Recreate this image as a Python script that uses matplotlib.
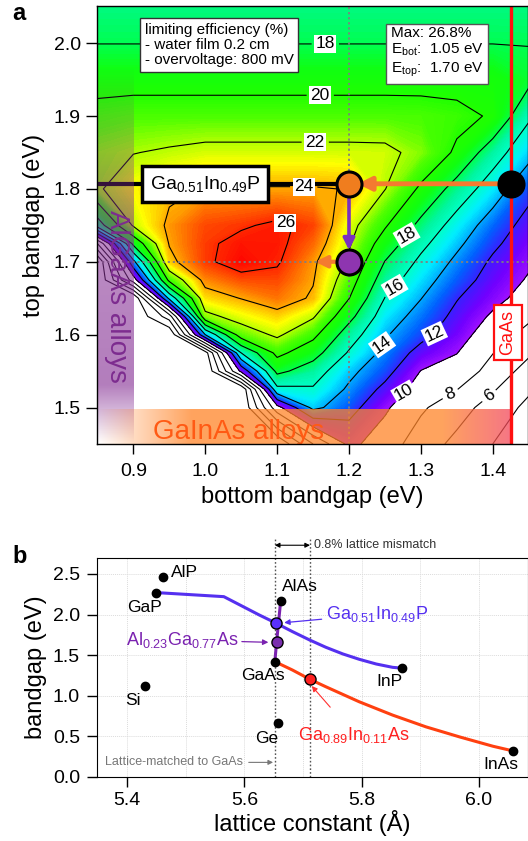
import numpy as np
import matplotlib
matplotlib.use('Agg')
import matplotlib.pyplot as plt
from matplotlib.colors import LinearSegmentedColormap

plt.rcParams['font.family'] = ['Liberation Sans', 'DejaVu Sans']
plt.rcParams['mathtext.fontset'] = 'custom'
plt.rcParams['mathtext.rm'] = 'Liberation Sans'
plt.rcParams['mathtext.it'] = 'Liberation Sans:italic'
plt.rcParams['mathtext.bf'] = 'Liberation Sans:bold'

# ---------------- panel a: limiting efficiency map ----------------
bottom_gap = [0.85, 0.90, 0.95, 1.00, 1.05, 1.10, 1.15, 1.20, 1.25, 1.30, 1.35, 1.40, 1.45]
top_gap = [1.45, 1.50, 1.525, 1.55, 1.575, 1.60, 1.625, 1.65, 1.675, 1.70, 1.725, 1.75,
           1.80, 1.85, 1.90, 1.95, 2.00, 2.05]
efficiency = [
    [0, 0, 0, 0, 0, 0, 6.0, 10.5, 9.0, 7.0, 5.5, 4.0, 2.5],
    [0, 0, 0, 0, 0, 9.3, 14.5, 12.8, 10.3, 8.3, 6.8, 5.2, 3.5],
    [0, 0, 0, 0, 0, 15.5, 15.8, 13.7, 11.5, 9.1, 8.05, 6.2, 4.3],
    [0, 0, 0, 0, 10.5, 18.5, 17.0, 14.5, 12.7, 9.95, 9.2, 7.3, 5.2],
    [0, 0, 0, 1.0, 16.0, 20.5, 18.8, 15.8, 13.5, 11.3, 10.05, 8.05, 6.3],
    [0, 0, 0, 14.0, 21.0, 22.3, 20.5, 17.0, 14.2, 12.6, 10.9, 8.8, 7.5],
    [0, 0, 5.0, 21.5, 22.7, 23.5, 22.2, 18.6, 15.0, 13.3, 11.5, 9.7, 8.3],
    [0, 0, 14.5, 23.3, 24.05, 24.8, 23.8, 20.05, 15.95, 14.05, 12.1, 10.6, 9.2],
    [0, 9.0, 20.5, 24.5, 25.4, 25.5, 24.1, 20.9, 17.0, 14.8, 12.9, 11.2, 9.8],
    [0, 13.5, 23.5, 25.7, 26.8, 26.2, 24.3, 21.7, 17.95, 15.6, 13.6, 11.7, 10.3],
    [6.0, 18.5, 24.1, 25.7, 26.5, 26.4, 25.0, 22.2, 19.1, 16.5, 14.4, 12.4, 10.8],
    [17.0, 22.2, 24.3, 25.5, 25.8, 26.3, 25.6, 22.6, 20.2, 17.5, 15.2, 13.1, 11.3],
    [21.8, 23.0, 23.7, 24.1, 24.1, 24.1, 24.1, 23.95, 22.05, 19.7, 17.2, 15.0, 12.6],
    [21.6, 21.95, 22.2, 22.45, 22.45, 22.45, 22.45, 22.45, 22.4, 21.5, 19.7, 16.9, 14.6],
    [20.6, 20.86, 20.86, 20.86, 20.86, 20.86, 20.86, 20.86, 20.86, 20.8, 20.5, 19.8, 16.3],
    [19.35, 19.35, 19.35, 19.35, 19.35, 19.35, 19.35, 19.35, 19.35, 19.35, 19.35, 19.35, 18.5],
    [17.97, 17.97, 17.97, 17.97, 17.97, 17.97, 17.97, 17.97, 17.97, 17.97, 17.97, 17.97, 17.95],
    [17.4, 17.4, 17.4, 17.4, 17.4, 17.4, 17.4, 17.4, 17.4, 17.4, 17.4, 17.4, 17.4],
]
line_levels = [2, 4, 6, 8, 10, 12, 14, 16, 18, 20, 22, 24, 26]

# where the contour labels sit (bottom gap, top gap) and how they are turned
label_x = [1.167, 1.160, 1.153, 1.137, 1.108, 1.282, 1.266, 1.243, 1.322, 1.275, 1.343, 1.394]
label_y = [1.997, 1.927, 1.864, 1.805, 1.743, 1.735, 1.663, 1.588, 1.599, 1.522, 1.515, 1.517]
label_rot = [0, 0, 0, 0, 0, 30, 30, 35, 25, 30, 20, 35]

# material / design points
gainp_top = 1.807      # Ga0.51In0.49P top bandgap
gaas_gap = 1.426       # GaAs bottom bandgap
design_bottom = 1.20
design_top = 1.70
alloy_limit = 0.90     # AlGaAs alloys below this bottom gap
gainas_limit = 1.497   # GaInAs alloys below this top gap

# colour stops of the efficiency scale
stop_levels = [10, 11, 12, 13, 14, 15, 16, 17, 18, 19, 20, 21, 22, 23, 24, 25, 26, 27]
stop_colors = ['#a010ff', '#7000ff', '#3820ff', '#0060ff', '#00a8ff', '#00eeff', '#00ffc8',
               '#00f5a0', '#00ff50', '#10ff10', '#20ff00', '#50ff00', '#b0ff00', '#ffff00',
               '#ffb000', '#ff6a00', '#ff2a00', '#ff0000']

# ---------------- panel b: bandgap vs lattice constant ----------------
compounds = ['AlP', 'GaP', 'Si', 'Ge', 'GaAs', 'AlAs', 'InP', 'InAs']
lattice = [5.4615, 5.450, 5.430, 5.658, 5.652, 5.662, 5.869, 6.059]
bandgap = [2.46, 2.27, 1.12, 0.667, 1.42, 2.17, 1.34, 0.32]
name_x = [5.498, 5.430, 5.410, 5.638, 5.632, 5.695, 5.847, 6.038]
name_y = [2.52, 2.09, 0.945, 0.48, 1.255, 2.34, 1.17, 0.157]

gainp_lat = [5.450, 5.565, 5.625, 5.654, 5.682, 5.711, 5.739, 5.768, 5.796, 5.825, 5.853, 5.869]
gainp_eg = [2.27, 2.22, 1.996, 1.894, 1.790, 1.688, 1.597, 1.515, 1.449, 1.391, 1.350, 1.34]
gainas_lat = [5.652, 5.682, 5.712, 5.739, 5.796, 5.853, 5.910, 5.967, 6.024, 6.059]
gainas_eg = [1.42, 1.317, 1.202, 1.111, 0.926, 0.762, 0.617, 0.494, 0.379, 0.32]
algaas_lat = [5.652, 5.655, 5.662]
algaas_eg = [1.42, 1.66, 2.17]

# highlighted alloys: lattice, bandgap
gainp_pt = (5.654, 1.894)
algaas_pt = (5.655, 1.66)
gainas_pt = (5.712, 1.202)
gaas_lattice = 5.652

fig = plt.figure(figsize=(5.28, 8.41), dpi=100)

# ===================== panel a =====================
ax = fig.add_axes([0.1831, 0.4721, 0.8169, 0.5208])
X, Y = np.meshgrid(bottom_gap, top_gap)
Z = np.array(efficiency)

cmap = LinearSegmentedColormap.from_list(
    'eff', [((lv - 10) / 17, c) for lv, c in zip(stop_levels, stop_colors)])
ax.contourf(X, Y, Z, levels=np.linspace(10, 27, 171), cmap=cmap, vmin=10, vmax=27, zorder=1)
cs = ax.contour(X, Y, Z, levels=line_levels, colors='black', linewidths=0.8, zorder=2)

ax.clabel(cs, line_levels, inline=True, inline_spacing=4, fmt='%d', fontsize=12.5,
          manual=list(zip(label_x, label_y)))
for t, r in zip(cs.labelTexts, label_rot):
    t.set_rotation(r)
    t.set_bbox(dict(facecolor='white', edgecolor='none', pad=1.0))
    t.set_zorder(7)

xmin, xmax = 0.849, 1.449
ymin, ymax = 1.450, 2.051

# dotted guides through the design point
ax.axvline(design_bottom, color='#808080', ls=(0, (1.2, 1.6)), lw=1.3, zorder=3)
ax.axhline(design_top, color='#808080', ls=(0, (1.2, 1.6)), lw=1.3, zorder=3)

# GaInP top cell line
ax.plot([xmin, design_bottom], [gainp_top, gainp_top], color='black', lw=3, zorder=3)

# alloy bands (drawn over the map)
band_y = np.linspace(ymin, 1.97, 120)
alpha_y = np.interp(band_y, [ymin, 1.53, 1.75, 1.97], [0.0, 0.62, 0.55, 0.0])
purple = np.zeros((len(band_y), 1, 4))
purple[:, 0, :3] = (0.52, 0.18, 0.58)
purple[:, 0, 3] = alpha_y
ax.imshow(purple, extent=(xmin, alloy_limit, ymin, 1.97), origin='lower',
          aspect='auto', interpolation='bilinear', zorder=4)

band_x = np.linspace(xmin, gaas_gap, 200)
orange = np.zeros((1, len(band_x), 4))
mix = np.interp(band_x, [xmin, 1.33, gaas_gap], [0.0, 0.0, 1.0])
orange[0, :, 0] = 1.0 - 0.05 * mix
orange[0, :, 1] = 0.52 - 0.24 * mix
orange[0, :, 2] = 0.16 + 0.2 * mix
orange[0, :, 3] = np.interp(band_x, [xmin, 0.98, gaas_gap], [0.0, 0.75, 0.75])
ax.imshow(orange, extent=(xmin, gaas_gap, ymin, gainas_limit), origin='lower',
          aspect='auto', interpolation='bilinear', zorder=4)

# GaAs bottom cell line
ax.axvline(gaas_gap, color='#ff1010', lw=2.4, zorder=5)

# arrows
ax.annotate('', xy=(design_bottom + 0.012, gainp_top), xytext=(gaas_gap, gainp_top),
            arrowprops=dict(arrowstyle='-|>', color='#f47a30', lw=3.5, mutation_scale=20,
                            shrinkA=0, shrinkB=0), zorder=5)
ax.annotate('', xy=(design_bottom, design_top + 0.016), xytext=(design_bottom, gainp_top),
            arrowprops=dict(arrowstyle='-|>', color='#7a2fc0', lw=2.6, mutation_scale=17,
                            shrinkA=0, shrinkB=0), zorder=5)
ax.annotate('', xy=(design_bottom - 0.047, design_top), xytext=(design_bottom, design_top),
            arrowprops=dict(arrowstyle='-|>', color='#f47a30', lw=3.0, mutation_scale=17,
                            shrinkA=0, shrinkB=0), zorder=5)

# marker circles
ax.plot(design_bottom, gainp_top, 'o', ms=18, mfc='#f07d1e', mec='black', mew=2.2, zorder=6)
ax.plot(design_bottom, design_top, 'o', ms=18, mfc='#8e35b0', mec='black', mew=2.2, zorder=6)
ax.plot(gaas_gap, gainp_top, 'o', ms=18, mfc='black', mec='black', mew=2.2, zorder=6)

# text boxes
ax.text(0.112, 0.962, 'limiting efficiency (%)\n- water film 0.2 cm\n- overvoltage: 800 mV',
        transform=ax.transAxes, ha='left', va='top', fontsize=11, linespacing=1.12,
        bbox=dict(boxstyle='square,pad=0.3', fc='white', ec='#333333', lw=1), zorder=8)
ax.text(0.682, 0.955, 'Max: 26.8%\nE$_{\\mathrm{bot}}$:  1.05 eV\nE$_{\\mathrm{top}}$:  1.70 eV',
        transform=ax.transAxes, ha='left', va='top', fontsize=11, linespacing=1.2,
        bbox=dict(boxstyle='square,pad=0.3', fc='white', ec='#555555', lw=1), zorder=8)
ax.text(1.0, gainp_top, 'Ga$_{0.51}$In$_{0.49}$P', ha='center', va='center', fontsize=14,
        bbox=dict(boxstyle='square,pad=0.4', fc='white', ec='black', lw=2.5), zorder=8)
ax.text(1.421, 1.603, 'GaAs', rotation=90, ha='center', va='center', fontsize=13,
        color='#ff1010',
        bbox=dict(boxstyle='square,pad=0.3', fc='white', ec='#ff1010', lw=1.6), zorder=8)
ax.text(0.877, 1.652, 'AlGaAs alloys', rotation=-90, ha='center', va='center', fontsize=20,
        color='#7d2c8f', zorder=8)
ax.text(1.046, 1.4567, 'GaInAs alloys', ha='center', va='baseline', fontsize=20,
        color='#ff5a14', zorder=8)

ax.set_xlim(xmin, xmax)
ax.set_ylim(ymin, ymax)
ax.set_xticks([0.9, 1.0, 1.1, 1.2, 1.3, 1.4])
ax.set_yticks([1.5, 1.6, 1.7, 1.8, 1.9, 2.0])
ax.tick_params(axis='x', direction='out', length=7, width=1, labelsize=14, pad=7)
ax.tick_params(axis='y', direction='out', length=8, width=1, labelsize=14, pad=3.5)
ax.set_xlabel('bottom bandgap (eV)', fontsize=17, labelpad=4)
ax.set_ylabel('top bandgap (eV)', fontsize=17, labelpad=6)
for sp in ax.spines.values():
    sp.set_linewidth(1)
    sp.set_zorder(9)

# ===================== panel b =====================
bx = fig.add_axes([0.1831, 0.0761, 0.8169, 0.2608])

bx.plot(gainp_lat, gainp_eg, color='#5530f0', lw=2.2, zorder=2)
bx.plot(gainas_lat, gainas_eg, color='#ff4010', lw=2.2, zorder=2)
bx.plot(algaas_lat, algaas_eg, color='#7a22b0', lw=2.2, zorder=2)
bx.plot(lattice, bandgap, 'o', color='black', ms=6, zorder=3)
bx.plot(*gainp_pt, 'o', ms=8, mfc='#5a30ff', mec='black', mew=1, zorder=4)
bx.plot(*algaas_pt, 'o', ms=8, mfc='#7a2fae', mec='black', mew=1, zorder=4)
bx.plot(*gainas_pt, 'o', ms=8, mfc='#ff2020', mec='black', mew=1, zorder=4)

for name, tx, ty in zip(compounds, name_x, name_y):
    bx.text(tx, ty, name, ha='center', va='center', fontsize=12.5, zorder=5)

# lattice-match guides
for lc in [gaas_lattice, gainas_pt[0]]:
    bx.plot([lc, lc], [0, 2.96], color='#555555', ls=(0, (1.2, 1.5)), lw=1.0,
            clip_on=False, zorder=1)
bx.annotate('', xy=(gainas_pt[0], 2.853), xytext=(gaas_lattice, 2.853),
            arrowprops=dict(arrowstyle='<|-|>', color='black', lw=0.8, mutation_scale=7,
                            shrinkA=0, shrinkB=0), annotation_clip=False)
bx.text(5.719, 2.853, '0.8% lattice mismatch', ha='left', va='center', fontsize=9,
        color='#333333', clip_on=False)
bx.annotate('Lattice-matched to GaAs', xy=(5.649, 0.18), xytext=(5.598, 0.18),
            ha='right', va='center', fontsize=9, color='#777777',
            arrowprops=dict(arrowstyle='-|>', color='#777777', lw=0.8, mutation_scale=7,
                            shrinkA=2, shrinkB=0))

# alloy names with arrows
bx.annotate('Ga$_{0.51}$In$_{0.49}$P', xy=(5.668, 1.90), xytext=(5.739, 1.943),
            ha='left', va='baseline', fontsize=13, color='#5530f0',
            arrowprops=dict(arrowstyle='-|>', color='#5530f0', lw=0.9, mutation_scale=8,
                            shrinkA=1, shrinkB=0))
bx.annotate('Al$_{0.23}$Ga$_{0.77}$As', xy=(5.641, 1.658), xytext=(5.591, 1.625),
            ha='right', va='baseline', fontsize=13, color='#7a22b0',
            arrowprops=dict(arrowstyle='-|>', color='#7a22b0', lw=0.9, mutation_scale=8,
                            shrinkA=0, shrinkB=0))
bx.annotate('Ga$_{0.89}$In$_{0.11}$As', xy=(5.715, 1.12), xytext=(5.692, 0.46),
            ha='left', va='baseline', fontsize=13, color='#ff2020',
            arrowprops=dict(arrowstyle='-|>', color='#ff3030', lw=0.8, mutation_scale=8,
                            shrinkA=14, shrinkB=0))

bx.set_xlim(5.348, 6.084)
bx.set_ylim(0, 2.70)
bx.set_xticks([5.4, 5.6, 5.8, 6.0])
bx.set_xticks([5.5, 5.7, 5.9], minor=True)
bx.set_yticks([0.0, 0.5, 1.0, 1.5, 2.0, 2.5])
bx.grid(True, which='both', color='#dcdcdc', lw=0.7, ls=(0, (1, 1)))
bx.set_axisbelow(True)
bx.tick_params(axis='x', which='major', direction='out', length=7, width=1, labelsize=14, pad=3.5)
bx.tick_params(axis='x', which='minor', length=0)
bx.tick_params(axis='y', direction='out', length=7, width=1, labelsize=14, pad=5)
bx.set_xlabel('lattice constant (Å)', fontsize=17, labelpad=1)
bx.set_ylabel('bandgap (eV)', fontsize=17, labelpad=4)

fig.text(0.023, 0.976, 'a', fontsize=17, fontweight='bold')
fig.text(0.023, 0.3306, 'b', fontsize=17, fontweight='bold')

fig.savefig('out.png', dpi=100)
